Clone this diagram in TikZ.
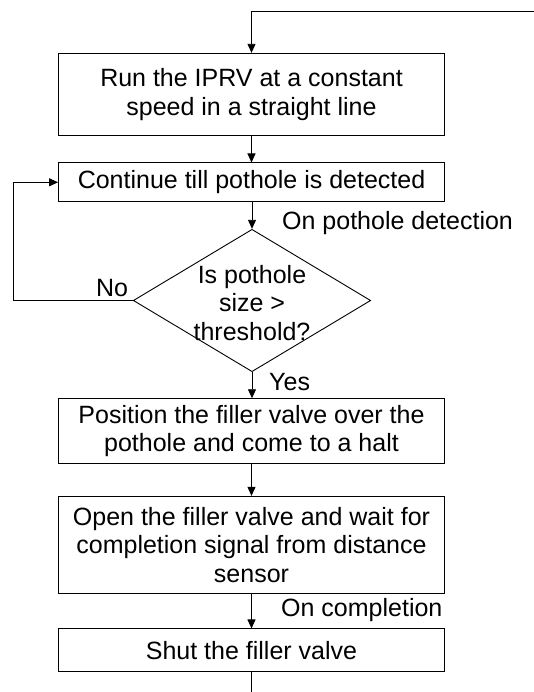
\documentclass[tikz,border=0pt]{standalone}
\usepackage{fontspec}
\setmainfont{Liberation Sans}
\usetikzlibrary{arrows.meta,shapes.geometric}

\tikzset{
  stepbox/.style={draw, line width=0.9pt, minimum width=386pt, inner sep=0pt,
    align=center, font=\fontsize{25}{28.8}\selectfont},
  decision/.style={draw, line width=0.9pt, shape=diamond, inner sep=0pt,
    minimum width=237.4pt, minimum height=142.4pt},
  arr/.style={line width=0.9pt, -{Triangle[length=9pt,width=8pt]}},
  plain/.style={line width=0.9pt},
  lbl/.style={inner sep=0pt, font=\fontsize{25}{28.8}\selectfont},
}

\begin{document}
\begin{tikzpicture}[x=1pt, y=-1pt]
  \useasboundingbox (0,0) rectangle (534,692);

  % process steps
  \node[stepbox, minimum height=82.4pt] (b1) at (251.5,94.5)
    {Run the IPRV at a constant\\speed in a straight line};
  \node[stepbox, minimum height=38.7pt] (b2) at (251.5,182.3)
    {Continue till pothole is detected};
  \node[decision] (dec) at (252,300.5) {};
  \node[lbl, align=center] (dectext) at (252,303)
    {Is pothole\\size >\\threshold?};
  \node[stepbox, minimum height=64.6pt] (b3) at (251.5,431)
    {Position the filler valve over the\\pothole and come to a halt};
  \node[stepbox, minimum height=97.2pt] (b4) at (251.5,544.9)
    {Open the filler valve and wait for\\completion signal from distance\\sensor};
  \node[stepbox, minimum height=42.8pt] (b5) at (251.5,650.3)
    {Shut the filler valve};

  % free ends of connectors
  \coordinate (topR) at (534,11);
  \coordinate (loopc) at (13.6,300.5);
  \coordinate (botE) at (251.5,692);

  % connectors
  \draw[arr] (topR) -| (b1.north);
  \draw[arr] (b1.south) -- (b2.north);
  \draw[arr] (b2.south -| dec.north) -- (dec.north);
  \draw[arr] (dec.south) -- (b3.north -| dec.south);
  \draw[arr] (dec.west) -- (loopc) |- (b2.west);
  \draw[arr] (b3.south) -- (b4.north);
  \draw[arr] (b4.south) -- (b5.north);
  \draw[plain] (b5.south) -- (botE);

  % connector labels
  \node[lbl, anchor=west] (lpd) at (282,223) {On pothole detection};
  \node[lbl] (lno) at (112,288.5) {No};
  \node[lbl, anchor=west] (lyes) at (269,382) {Yes};
  \node[lbl, anchor=west] (lcomp) at (281,610.5) {On completion};
\end{tikzpicture}
\end{document}
